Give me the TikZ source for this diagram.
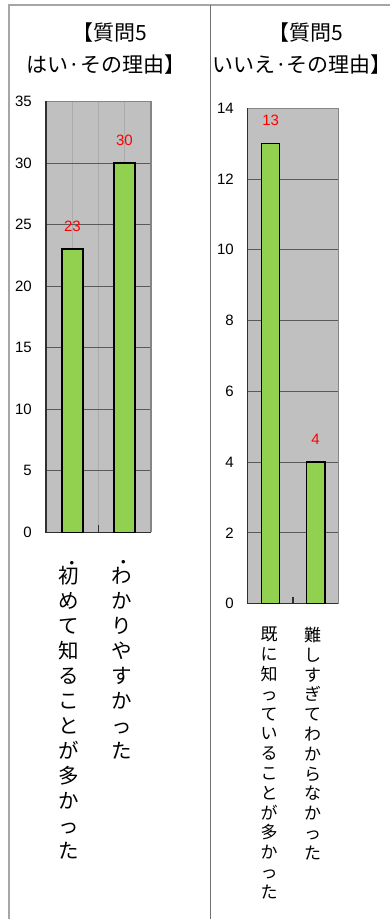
\documentclass[tikz,border=0pt]{standalone}
\usepackage{fontspec}
\setmainfont{Liberation Sans}
\newfontfamily\cjk{Noto Sans CJK JP}
\definecolor{plotgray}{HTML}{C0C0C0}
\definecolor{bargreen}{HTML}{92D050}
\definecolor{gridd}{HTML}{5A5A5A}
\definecolor{gridl}{HTML}{ABABAB}
\definecolor{framel}{HTML}{A6A6A6}
\definecolor{framed}{HTML}{707070}
\definecolor{plotframe}{HTML}{858585}
\definecolor{axisc}{HTML}{303030}
\begin{document}
\begin{tikzpicture}[x=1pt,y=-1pt,
  bar/.style={fill=bargreen,draw=black,line width=1.5pt},
  hgrid/.style={draw=gridd,line width=0.9pt},
  vgrid/.style={draw=gridl,line width=0.9pt},
  pframe/.style={draw=plotframe,line width=1.6pt},
  axisline/.style={draw=axisc,line width=1.1pt},
  ylab/.style={anchor=east,font=\fontsize{15}{15}\selectfont,inner sep=0pt},
  vallab/.style={text=red,font=\fontsize{15}{15}\selectfont,inner sep=0pt},
  title/.style={font=\cjk\fontsize{21}{21}\selectfont,inner sep=0pt},
  catbig/.style={font=\cjk\fontsize{20.5}{25}\selectfont,align=center,anchor=north,inner sep=0pt},
  catsmall/.style={font=\cjk\fontsize{17}{19.8}\selectfont,align=center,anchor=north,inner sep=0pt},
  dotlab/.style={font=\fontsize{13}{13}\selectfont,inner sep=0pt}]
\useasboundingbox (0,0) rectangle (390,919);
% frame
\draw[draw=framel,line width=1.5pt] (9,919) -- (9,5) -- (390,5);
\draw[draw=framed,line width=1.2pt] (210.5,5) -- (210.5,919);
% titles
\node[title] (t1a) at (110,33) {【質問5};
\node[title] (t1b) at (106,65) {はい·その理由】};
\node[title] (t2a) at (306,33) {【質問5};
\node[title,anchor=west] (t2b) at (212,65) {いいえ·その理由】};
% ---------- chart 1 ----------
\fill[plotgray] (46,101.45) rectangle (151,532.3);
\foreach \xx in {72.25,98.5,124.75}
  \draw[vgrid] (\xx,101.45) -- (\xx,532.3);
\foreach \v in {5,10,...,30}
  \draw[hgrid] (46,{532.3-12.31*\v}) -- (151,{532.3-12.31*\v});
\draw[pframe] (46,101.45) -- (151,101.45) -- (151,532.3);
\draw[axisline] (46,101.45) -- (46,532.3) -- (151,532.3);
\draw[axisline] (98.5,532.3) -- (98.5,525);
\foreach \v in {0,5,...,35}
  \node[ylab] (ya\v) at (32,{532.3-12.31*\v}) {\v};
\draw[bar] (62,532.3) rectangle (83,{532.3-12.31*23});
\draw[bar] (114,532.3) rectangle (135,{532.3-12.31*30});
\node[vallab] (va1) at (72.5,226.5) {23};
\node[vallab] (va2) at (124.5,140) {30};
\node[catbig] (c1) at (68.5,566) {初\\め\\て\\知\\る\\こ\\と\\が\\多\\か\\っ\\た};
\node[catbig] (c2) at (122,567.5) {わ\\か\\り\\や\\す\\か\\っ\\た};
\node[dotlab] (d1) at (72,564.5) {•};
\node[dotlab] (d2) at (123.3,563.5) {•};
% ---------- chart 2 ----------
\fill[plotgray] (247.5,108.3) rectangle (338.3,603.6);
\foreach \v in {2,4,...,12}
  \draw[hgrid] (247.5,{603.6-35.38*\v}) -- (338.3,{603.6-35.38*\v});
\draw[pframe] (247.5,108.3) -- (338.3,108.3) -- (338.3,603.6);
\draw[axisline] (247.5,108.3) -- (247.5,603.6) -- (338.3,603.6);
\draw[axisline] (293,603.6) -- (293,597);
\foreach \v in {0,2,...,14}
  \node[ylab] (yb\v) at (234,{603.6-35.38*\v}) {\v};
\draw[bar] (261.7,603.6) rectangle (279.3,{603.6-35.38*13});
\draw[bar] (306.7,603.6) rectangle (325,{603.6-35.38*4});
\node[vallab] (vb1) at (270.7,120) {13};
\node[vallab] (vb2) at (315.5,439) {4};
\node[catsmall] (c3) at (269,627) {既\\に\\知\\っ\\て\\い\\る\\こ\\と\\が\\多\\か\\っ\\た};
\node[catsmall] (c4) at (312.5,627) {難\\し\\す\\ぎ\\て\\わ\\か\\ら\\な\\か\\っ\\た};
\end{tikzpicture}
\end{document}
